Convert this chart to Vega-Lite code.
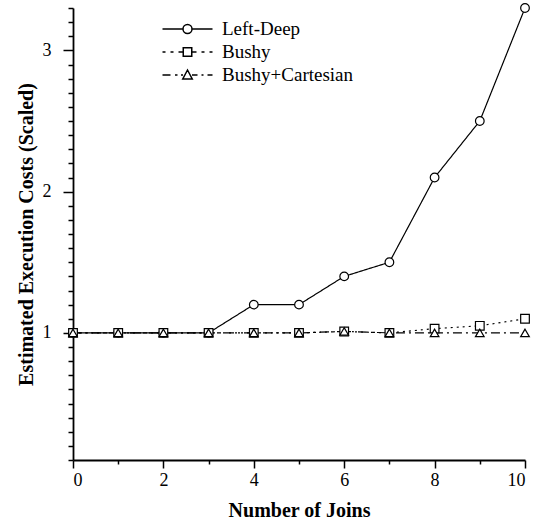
{
  "$schema": "https://vega.github.io/schema/vega-lite/v6.json",
  "width": 452,
  "height": 452,
  "autosize": {"type": "none"},
  "padding": {"left": 73, "top": 8, "right": 11, "bottom": 65},
  "background": "white",
  "config": {
    "view": {"stroke": null},
    "font": "Liberation Serif",
    "axis": {
      "grid": false,
      "domainColor": "black",
      "domainWidth": 1.8,
      "tickColor": "black",
      "tickWidth": 1.5,
      "labelColor": "black",
      "labelFont": "Liberation Serif",
      "labelFontSize": 18,
      "titleFont": "Liberation Serif",
      "titleFontSize": 20,
      "titleFontWeight": "bold",
      "titleColor": "black"
    }
  },
  "data": {
    "values": [
      {"joins": 0, "cost": 1.0, "series": "Left-Deep"},
      {"joins": 1, "cost": 1.0, "series": "Left-Deep"},
      {"joins": 2, "cost": 1.0, "series": "Left-Deep"},
      {"joins": 3, "cost": 1.0, "series": "Left-Deep"},
      {"joins": 4, "cost": 1.2, "series": "Left-Deep"},
      {"joins": 5, "cost": 1.2, "series": "Left-Deep"},
      {"joins": 6, "cost": 1.4, "series": "Left-Deep"},
      {"joins": 7, "cost": 1.5, "series": "Left-Deep"},
      {"joins": 8, "cost": 2.1, "series": "Left-Deep"},
      {"joins": 9, "cost": 2.5, "series": "Left-Deep"},
      {"joins": 10, "cost": 3.3, "series": "Left-Deep"},
      {"joins": 0, "cost": 1.0, "series": "Bushy"},
      {"joins": 1, "cost": 1.0, "series": "Bushy"},
      {"joins": 2, "cost": 1.0, "series": "Bushy"},
      {"joins": 3, "cost": 1.0, "series": "Bushy"},
      {"joins": 4, "cost": 1.0, "series": "Bushy"},
      {"joins": 5, "cost": 1.0, "series": "Bushy"},
      {"joins": 6, "cost": 1.01, "series": "Bushy"},
      {"joins": 7, "cost": 1.0, "series": "Bushy"},
      {"joins": 8, "cost": 1.03, "series": "Bushy"},
      {"joins": 9, "cost": 1.05, "series": "Bushy"},
      {"joins": 10, "cost": 1.1, "series": "Bushy"},
      {"joins": 0, "cost": 1.0, "series": "Bushy+Cartesian"},
      {"joins": 1, "cost": 1.0, "series": "Bushy+Cartesian"},
      {"joins": 2, "cost": 1.0, "series": "Bushy+Cartesian"},
      {"joins": 3, "cost": 1.0, "series": "Bushy+Cartesian"},
      {"joins": 4, "cost": 1.0, "series": "Bushy+Cartesian"},
      {"joins": 5, "cost": 1.0, "series": "Bushy+Cartesian"},
      {"joins": 6, "cost": 1.01, "series": "Bushy+Cartesian"},
      {"joins": 7, "cost": 1.0, "series": "Bushy+Cartesian"},
      {"joins": 8, "cost": 1.0, "series": "Bushy+Cartesian"},
      {"joins": 9, "cost": 1.0, "series": "Bushy+Cartesian"},
      {"joins": 10, "cost": 1.0, "series": "Bushy+Cartesian"}
    ]
  },
  "encoding": {
    "x": {
      "field": "joins",
      "type": "quantitative",
      "title": "Number of Joins",
      "scale": {"domain": [0, 10], "nice": false, "zero": false},
      "axis": {
        "values": [0, 1, 2, 3, 4, 5, 6, 7, 8, 9, 10],
        "format": "d",
        "labelExpr": "datum.value % 2 == 0 ? datum.label : ''",
        "tickSize": {"condition": {"test": "datum.value % 2 == 0", "value": 8}, "value": 4},
        "labelPadding": 3,
        "titlePadding": 11
      }
    },
    "y": {
      "field": "cost",
      "type": "quantitative",
      "title": "Estimated Execution Costs (Scaled)",
      "scale": {"domain": [0.1, 3.3], "nice": false, "zero": false},
      "axis": {
        "values": [0.1, 0.2, 0.3, 0.4, 0.5, 0.6, 0.7, 0.8, 0.9, 1, 1.1, 1.2, 1.3, 1.4, 1.5, 1.6, 1.7, 1.8, 1.9, 2, 2.1, 2.2, 2.3, 2.4, 2.5, 2.6, 2.7, 2.8, 2.9, 3, 3.1, 3.2, 3.3],
        "format": "~g",
        "labelExpr": "(datum.value == 1 || datum.value == 2 || datum.value == 3) ? datum.label : ''",
        "tickSize": {"condition": {"test": "datum.value == 1 || datum.value == 2 || datum.value == 3", "value": 10}, "value": 5},
        "labelPadding": 12,
        "titlePadding": 6
      }
    }
  },
  "layer": [
    {
      "mark": {"type": "line", "color": "black", "strokeWidth": 1.2},
      "encoding": {
        "strokeDash": {
          "field": "series",
          "type": "nominal",
          "scale": {"domain": ["Left-Deep", "Bushy", "Bushy+Cartesian"], "range": [[1, 0], [2, 4], [9, 4, 2, 4]]},
          "legend": null
        }
      }
    },
    {
      "mark": {"type": "point", "fill": "white", "stroke": "black", "strokeWidth": 1.2, "size": 75, "opacity": 1},
      "encoding": {
        "shape": {
          "field": "series",
          "type": "nominal",
          "scale": {"domain": ["Left-Deep", "Bushy", "Bushy+Cartesian"], "range": ["circle", "square", "triangle-up"]},
          "legend": null
        }
      }
    },
    {
      "transform": [{"filter": "false"}],
      "mark": {"type": "point", "color": "black", "filled": false, "size": 100, "opacity": 1},
      "encoding": {
        "shape": {
          "field": "series",
          "type": "nominal",
          "scale": {
            "domain": ["Left-Deep", "Bushy", "Bushy+Cartesian"],
            "range": [
              "M-5,0H-0.9M0.9,0H5M0.9,0A0.9,0.9,0,1,1,-0.9,0A0.9,0.9,0,1,1,0.9,0Z",
              "M-5,0H-4.4M-3.4,0H-2.8M-1.8,0H-0.85M0.85,0H1.8M2.8,0H3.4M4.4,0H5M-0.85,-0.85H0.85V0.85H-0.85Z",
              "M-5,0H-3.4M-2.5,0H-2.0M-1.3,0H-0.9M0.9,0H2.0M2.8,0H3.2M4.0,0H5M0,-1L0.95,0.8L-0.95,0.8Z"
            ]
          },
          "legend": {
            "orient": "none",
            "legendX": 90,
            "legendY": 11.5,
            "title": null,
            "padding": 0,
            "symbolSize": 100,
            "symbolOffset": 15,
            "labelOffset": 25,
            "labelFont": "Liberation Serif",
            "labelFontSize": 19,
            "labelColor": "black",
            "rowPadding": 3,
            "encode": {
              "symbols": {
                "update": {
                  "opacity": {"value": 1},
                  "fill": {"value": "white"},
                  "stroke": {"value": "black"},
                  "strokeWidth": {"value": 1.2},
                  "size": {"value": 100}
                }
              }
            }
          }
        }
      }
    }
  ],
  "resolve": {"scale": {"shape": "independent"}}
}
